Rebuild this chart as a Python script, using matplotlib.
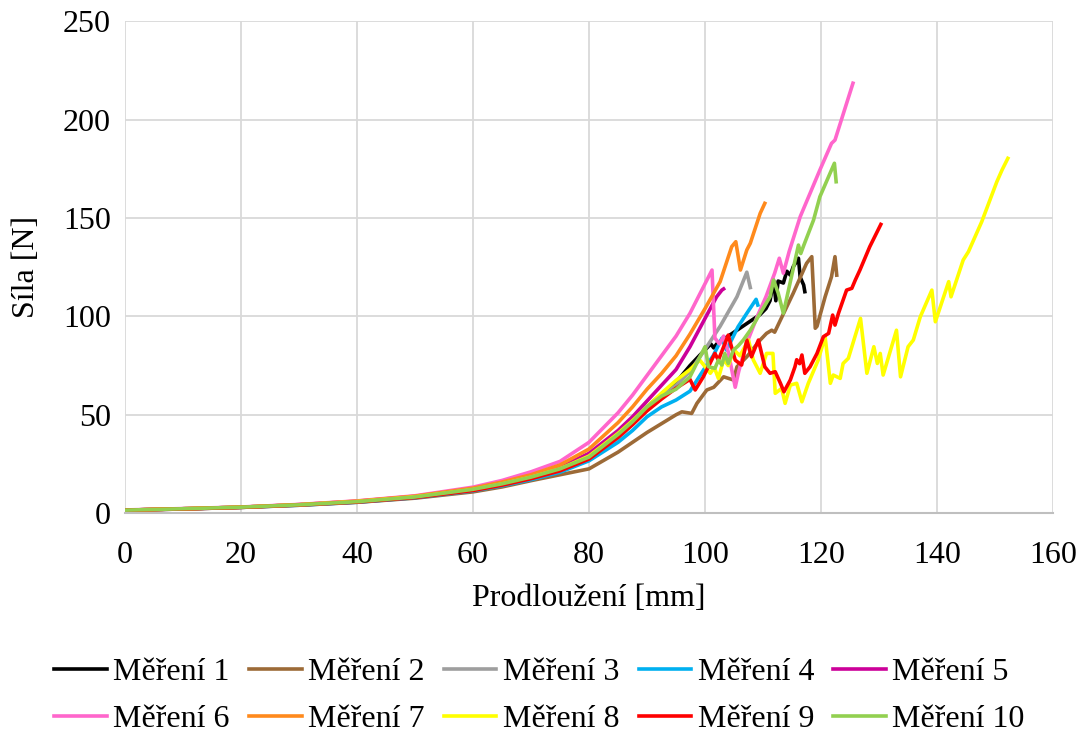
import matplotlib
matplotlib.use('Agg')
import matplotlib.pyplot as plt

plt.rcParams['font.family'] = ['Liberation Serif', 'DejaVu Serif']

xb = [0, 10, 20, 30, 40, 50, 60, 65, 70, 75, 80, 85, 87.5, 90, 92.5, 95]

x1 = xb + [97.4, 99, 100, 101, 101.5, 102, 103, 104, 105, 106, 107, 108, 109.5, 110.5, 111.2, 111.8, 112.2,
           112.6, 113.5, 114.1, 114.7, 115.2, 115.8, 116.1, 116.4, 117, 117.2]
y1 = [1.5, 2.2, 3.0, 4.2, 5.8, 8.2, 11.8, 14.6, 18, 22, 28, 39, 46, 54, 60.5, 66.5,
      75, 80, 83, 86, 84, 86, 88, 90, 92, 94, 96, 98, 101, 104, 108, 118.5, 108,
      118, 117, 123, 121, 125.3, 128, 129.6, 120, 116, 112.6]

x2 = xb + [96, 97.7, 98.6, 100.3, 101.5, 103.2, 104.9, 105.5, 107.2, 109.5, 110.6, 111.5, 112, 113, 115.2,
           117.5, 118.4, 119, 119.3, 120.7, 121.8, 122.4, 122.7]
y2 = [1.5, 2.1, 2.9, 4.0, 5.5, 7.6, 10.8, 13.3, 16.5, 19.5, 22.5, 31, 36, 41, 45.5, 50,
      51.5, 50.7, 55.8, 62.6, 64, 69.3, 67.7, 74.4, 79.5, 88, 91.4, 93, 92, 98.2, 111.8,
      127, 130.4, 94, 95, 110, 120.2, 130.4, 121]

x3 = xb + [97.4, 100.3, 102.6, 105.5, 107.2, 107.8]
y3 = [1.5, 2.2, 3.0, 4.2, 5.7, 8.0, 11.6, 14.4, 17.8, 21.8, 27.3, 38, 45, 52.5, 59, 65,
      72, 84.6, 95, 110, 122.5, 114.7]

x4 = xb + [97.4, 100, 101.4, 102.9, 103.7, 105.7, 107.2, 108.8, 109.1]
y4 = [1.5, 2.1, 2.9, 4.0, 5.5, 7.8, 11.3, 13.9, 17, 20.8, 26.6, 36, 42, 49, 54, 57.5,
      62, 74, 80, 88.9, 82.9, 94.8, 101.6, 108.7, 105.8]

x5 = xb + [97.4, 100, 102, 102.9, 103.2]
y5 = [1.5, 2.2, 3.0, 4.3, 6.0, 8.5, 12.3, 15.2, 19, 23.3, 30.4, 42, 49, 57, 65, 73,
      84.6, 99, 110, 113.4, 114]

x6 = xb + [97.4, 101.2, 101.7, 102.5, 103.2, 104, 105.2, 105.8, 107, 109, 110.5, 112, 112.8, 113.5, 114.5,
           116.4, 119.8, 121.8, 122.4, 125.5]
y6 = [1.6, 2.3, 3.1, 4.4, 6.2, 8.8, 13.2, 16.6, 21, 26.3, 36, 51, 60, 70, 80, 90,
      101.6, 123.6, 89, 86, 90, 82, 64, 72, 85, 100, 110, 122, 129.6, 122, 133,
      150.7, 174.5, 188, 189.7, 218.6]

x7 = xb + [97.4, 100, 102.6, 104.6, 105.3, 106.1, 107.2, 107.8, 109.5, 110.3]
y7 = [1.5, 2.2, 3.0, 4.3, 6.1, 8.6, 12.7, 15.8, 19.5, 24.5, 32.6, 46, 54, 63, 71, 80,
      91, 104, 117.7, 135.5, 138, 123.6, 133.8, 137.2, 152.4, 157.5]

x8 = xb + [97.4, 99.1, 100.9, 101.6, 102.3, 103.2, 104, 105, 106, 107.5, 108.3, 109.5, 110.6, 111.7, 112.1,
           113.2, 113.8, 114.7, 115.8, 116.7, 117.8, 119.5, 120.7, 121.6, 122.1, 123.3, 123.8, 124.7, 126.8,
           127.9, 129.1, 129.7, 130.2, 130.7, 133, 133.7, 135, 135.9, 137.1, 139.1, 139.7, 142, 142.4, 144.5,
           145.4, 147.7, 150.3, 151.2, 152.2]
y8 = [1.5, 2.2, 3.0, 4.2, 5.8, 8.2, 11.9, 14.8, 18.2, 22.5, 29, 40.5, 47, 54, 61, 67.5,
      73, 77.8, 71.1, 74, 68.5, 78, 75, 83, 80, 88, 78, 71.1, 81.2, 81.2, 60.9,
      63.4, 55.8, 65.1, 66, 56.6, 66, 77.8, 89.7, 66, 70.2, 68.5, 76.1, 78.7, 99,
      71.1, 84.6, 76.1, 81.2, 70.2, 93, 69.3, 84.6, 88, 99.8, 113.4, 97.3, 117.7, 110, 128.7,
      132.9, 148.2, 168.5, 174.5, 180.4]

x9 = xb + [97.4, 98.3, 99.7, 101.7, 102.3, 104, 105.2, 106.3, 107.2, 108, 109.2, 110.3, 111.2, 112.1, 113,
           113.6, 114.7, 115.5, 115.8, 116.3, 116.7, 117.2, 118.1, 119.3, 120.4, 121.3, 122, 122.4, 123,
           124.4, 125.3, 125.9, 126.7, 128.4, 130.3]
y9 = [1.5, 2.1, 2.9, 4.1, 5.6, 7.9, 11.5, 14.2, 17.5, 21.5, 27.5, 38.5, 45, 52, 58, 63.5,
      68, 62.6, 69.3, 81.2, 77.8, 90.5, 77.8, 75.3, 88, 79.5, 88, 74.4, 71.1, 71.9, 66,
      61.7, 67.7, 74.4, 78, 76, 80.4, 71.1, 74.4, 81.2, 89.7, 91.4, 100.7, 95.6, 101.6,
      113.4, 114.3, 118.5, 123.6, 135.5, 146.8]

x10 = xb + [97.4, 100, 100.6, 101.7, 102.3, 102.9, 103.4, 104, 104.9, 105.7, 106.6, 107.8, 109.5, 111.2,
            111.8, 112.6, 113.5, 116.1, 116.5, 117, 118.7, 119.8, 122.3, 122.6]
y10 = [1.5, 2.2, 3.0, 4.2, 5.8, 8.2, 12.1, 14.9, 18.3, 22.5, 28.5, 40, 46.5, 54, 59.5, 63,
       69.3, 84.6, 74.4, 73.6, 77.8, 75.3, 81.2, 76.1, 82.9, 85, 88, 93, 101.6, 110,
       118.5, 112, 101.6, 136.3, 132, 136, 149, 160.9, 177.9, 168.5]

xs = [x1, x2, x3, x4, x5, x6, x7, x8, x9, x10]
ys = [y1, y2, y3, y4, y5, y6, y7, y8, y9, y10]
labels = ['Měření %d' % i for i in range(1, 11)]
colors = ['#000000', '#9C6A37', '#9E9E9E', '#00B0F0', '#CC0099',
          '#FF66CC', '#FF8A1C', '#FFFF00', '#FF0000', '#92D050']

fig = plt.figure(figsize=(10.79, 7.33), dpi=100)
ax = fig.add_axes([0.1158, 0.300, 0.8602, 0.6707])

lines = []
for x, y, lab, c in zip(xs, ys, labels, colors):
    l, = ax.plot(x, y, color=c, lw=2.6, label=lab, solid_joinstyle='round')
    lines.append(l)

ax.set_xlim(0, 160)
ax.set_ylim(0, 250)
ax.set_xticks(range(0, 161, 20))
ax.set_yticks(range(0, 251, 50))
ax.grid(True, color='#D9D9D9', lw=1.3)
ax.set_axisbelow(True)
for s in ['top', 'right', 'left']:
    ax.spines[s].set_visible(False)
ax.spines['bottom'].set_color('#BFBFBF')
ax.spines['bottom'].set_linewidth(1.5)
ax.tick_params(length=0, labelsize=23)
ax.tick_params(axis='x', pad=20)
ax.tick_params(axis='y', pad=10)
ax.set_xlabel('Prodloužení [mm]', fontsize=23, labelpad=10)
ax.set_ylabel('Síla [N]', fontsize=23, labelpad=16)

# legend filled row by row
order = [0, 5, 1, 6, 2, 7, 3, 8, 4, 9]
fig.legend([lines[i] for i in order], [labels[i] for i in order],
           loc='lower center', bbox_to_anchor=(0.5, -0.028), ncol=5, frameon=False, fontsize=23,
           handlelength=1.65, handletextpad=0.2, columnspacing=0.6, labelspacing=0.55, borderpad=0.1)

plt.savefig('out.png', dpi=100)
